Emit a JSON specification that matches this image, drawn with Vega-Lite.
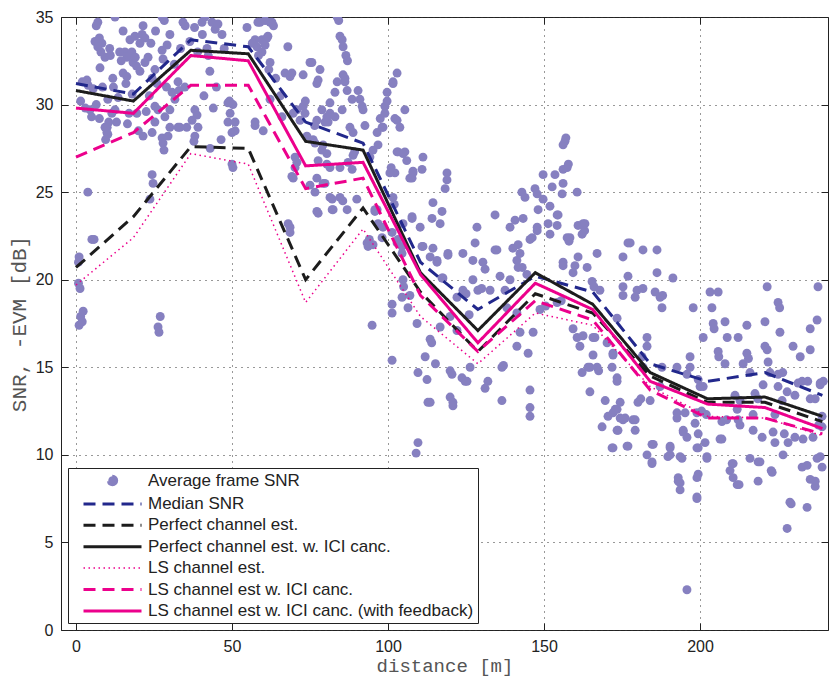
{
"$schema": "https://vega.github.io/schema/vega-lite/v6.json",
"width": 767, "height": 613,
"autosize": {"type": "none"},
"padding": {"left": 61, "top": 17, "right": 2, "bottom": 46},
"background": "white",
"config": {"view": {"stroke": "#222", "strokeWidth": 1}, "font": "Liberation Sans",
 "legend": {"orient": "bottom-left", "offset": 7, "padding": 4, "strokeColor": "#222", "fillColor": "white",
  "labelFont": "Liberation Sans", "labelFontSize": 17, "labelColor": "#222", "labelLimit": 0,
  "symbolSize": 100, "symbolOffset": 32, "labelOffset": 27, "rowPadding": 3.4, "symbolType": "stroke"}},
"datasets": {
"pts": [
{"x":1,"y":21.3},{"x":0.8,"y":21.0},{"x":0.8,"y":19.8},{"x":1.3,"y":19.5},{"x":1.5,"y":17.9},{"x":1.0,"y":17.4},{"x":2.0,"y":17.6},{"x":2.3,"y":18.2},{"x":5.8,"y":22.3},{"x":3.8,"y":25.0},
{"x":3.5,"y":31.4},{"x":3.9,"y":31.1},{"x":2.0,"y":31.3},{"x":1.5,"y":30.2},{"x":4.5,"y":29.7},{"x":5.0,"y":29.3},{"x":3.0,"y":29.8},{"x":7.0,"y":34.7},{"x":6.5,"y":34.5},{"x":12.5,"y":35.0},{"x":8.3,"y":33.5},{"x":7.5,"y":33.8},{"x":6.1,"y":33.6},{"x":7.0,"y":33.3},{"x":8.0,"y":33.0},{"x":7.7,"y":32.1},{"x":9.9,"y":28.4},{"x":10.0,"y":28.7},{"x":10.2,"y":28.3},{"x":10.5,"y":29.0},{"x":9.3,"y":32.7},{"x":11.8,"y":31.5},{"x":15.1,"y":34.2},{"x":15.7,"y":33.0},{"x":16.3,"y":32.7},{"x":17.9,"y":33.0},{"x":18.3,"y":32.4},{"x":19.4,"y":32.2},{"x":19.0,"y":32.7},{"x":15.1,"y":31.8},{"x":16.3,"y":31.6},{"x":16.0,"y":31.2},{"x":14.5,"y":32.5},{"x":17.3,"y":33.7},{"x":12.5,"y":29.7},{"x":11.5,"y":29.5},{"x":9.3,"y":28.7},{"x":9.5,"y":28.0},{"x":5.1,"y":22.3},{"x":13.5,"y":30.4},{"x":14.0,"y":33.0},{"x":10.8,"y":33.2},{"x":11.0,"y":32.8},{"x":18.9,"y":33.9},{"x":17.0,"y":29.5},{"x":16.5,"y":28.9},{"x":19.5,"y":29.5},{"x":18.0,"y":30.6},{"x":5.5,"y":30.9},{"x":6.5,"y":30.0},{"x":8.5,"y":31.0},{"x":12.0,"y":31.0},{"x":13,"y":29},{"x":7.5,"y":29.2},{"x":10.2,"y":30.3},
{"x":21.2,"y":34.0},{"x":22.1,"y":33.8},{"x":20.5,"y":33.5},{"x":23.1,"y":32.7},{"x":22.1,"y":32.4},{"x":20.5,"y":31.9},{"x":21.5,"y":34.5},{"x":27.6,"y":35.0},{"x":28.3,"y":34.8},{"x":30.1,"y":34.0},{"x":29.2,"y":33.4},{"x":27.6,"y":33.1},{"x":27.9,"y":32.6},{"x":25.3,"y":32.0},{"x":24.4,"y":31.5},{"x":25.3,"y":29.9},{"x":26.3,"y":29.7},{"x":30.8,"y":30.7},{"x":31.7,"y":30.3},{"x":30.1,"y":29.7},{"x":28.5,"y":29.3},{"x":25.3,"y":29.0},{"x":24.4,"y":28.4},{"x":27.6,"y":28.1},{"x":27.9,"y":27.8},{"x":28.2,"y":27.4},{"x":30.1,"y":28.7},{"x":32.7,"y":28.7},{"x":32.7,"y":31.3},{"x":33.0,"y":30.8},{"x":34.9,"y":31.0},{"x":24.4,"y":26.0},{"x":24.7,"y":25.5},{"x":23.7,"y":24.6},{"x":27.0,"y":17.9},{"x":26.3,"y":17.3},{"x":26.6,"y":17.0},{"x":22.5,"y":29.6},{"x":23.5,"y":30.5},{"x":26.0,"y":31.2},{"x":29.0,"y":31.0},{"x":24.0,"y":33.5},{"x":25.5,"y":34.2},{"x":31.5,"y":32.3},{"x":33.5,"y":33.2},{"x":20.0,"y":28.5},{"x":21.5,"y":28.2},{"x":29.5,"y":28.2},
{"x":34.3,"y":34.7},{"x":35.0,"y":34.5},{"x":40.4,"y":34.7},{"x":41.3,"y":35.0},{"x":43.6,"y":34.7},{"x":44.6,"y":34.3},{"x":45.5,"y":34.6},{"x":46.8,"y":34.0},{"x":42.0,"y":33.2},{"x":42.4,"y":32.8},{"x":38.1,"y":29.7},{"x":38.8,"y":29.4},{"x":37.2,"y":29.1},{"x":39.1,"y":28.7},{"x":35.5,"y":28.7},{"x":33.3,"y":28.7},{"x":38.1,"y":28.2},{"x":37.8,"y":27.9},{"x":42.9,"y":31.9},{"x":48.7,"y":30.1},{"x":49.2,"y":30.2},{"x":49.4,"y":29.5},{"x":48.7,"y":29.0},{"x":50.0,"y":28.4},{"x":50.3,"y":26.4},{"x":36.5,"y":33.6},{"x":39.0,"y":33.0},{"x":47.5,"y":33.2},{"x":45.0,"y":31.0},{"x":44.0,"y":29.8},{"x":41.0,"y":30.5},{"x":46.5,"y":28.0},{"x":43.0,"y":27.5},{"x":40.5,"y":34.0},{"x":38.0,"y":34.4},
{"x":54.8,"y":34.4},{"x":58.3,"y":34.7},{"x":59.0,"y":34.7},{"x":60.6,"y":34.8},{"x":62.2,"y":34.7},{"x":62.8,"y":34.7},{"x":63.3,"y":34.5},{"x":57.4,"y":33.7},{"x":59.6,"y":33.7},{"x":61.2,"y":33.8},{"x":61.5,"y":33.9},{"x":60.6,"y":33.4},{"x":58.0,"y":33.3},{"x":56.5,"y":33.5},{"x":59.6,"y":33.0},{"x":58.5,"y":32.8},{"x":62.2,"y":32.4},{"x":61.8,"y":32.0},{"x":67.9,"y":33.3},{"x":67.0,"y":31.8},{"x":68.6,"y":31.6},{"x":69.2,"y":31.8},{"x":72.8,"y":31.7},{"x":75.0,"y":32.4},{"x":62.2,"y":30.3},{"x":57.4,"y":29.0},{"x":57.4,"y":28.8},{"x":50.3,"y":30.0},{"x":51.0,"y":29.0},{"x":51.0,"y":28.5},{"x":50.0,"y":26.6},{"x":70.2,"y":27.0},{"x":70.2,"y":26.4},{"x":69.6,"y":25.8},{"x":70.8,"y":26.7},{"x":69.2,"y":25.9},{"x":68.6,"y":23.0},{"x":68.6,"y":22.7},{"x":68.0,"y":23.2},{"x":72.8,"y":29.9},{"x":73.5,"y":30.2},{"x":73.4,"y":29.5},{"x":70.8,"y":29.7},{"x":71.8,"y":29.1},{"x":69.6,"y":29.5},{"x":74.0,"y":28.2},{"x":75.0,"y":25.4},{"x":64.0,"y":31.5},{"x":65.5,"y":30.5},{"x":66.0,"y":29.3},{"x":60.0,"y":28.5},
{"x":76.0,"y":28.0},{"x":75.6,"y":32.4},{"x":77.6,"y":31.4},{"x":78.2,"y":32.0},{"x":77.2,"y":31.2},{"x":78.8,"y":29.7},{"x":79.8,"y":29.0},{"x":81.4,"y":30.1},{"x":81.4,"y":29.5},{"x":80.4,"y":29.3},{"x":77.2,"y":29.1},{"x":76.5,"y":28.8},{"x":80.8,"y":29.0},{"x":83.0,"y":29.3},{"x":85.3,"y":29.7},{"x":83.7,"y":35.0},{"x":84.2,"y":34.8},{"x":84.6,"y":33.9},{"x":85.3,"y":33.7},{"x":85.6,"y":33.3},{"x":86.5,"y":32.8},{"x":87.0,"y":32.5},{"x":85.6,"y":31.7},{"x":86.2,"y":31.3},{"x":86.2,"y":31.5},{"x":83.7,"y":31.3},{"x":83.0,"y":30.7},{"x":86.9,"y":30.8},{"x":88.5,"y":30.3},{"x":90.4,"y":30.8},{"x":91.0,"y":30.3},{"x":91.7,"y":29.9},{"x":92.0,"y":29.7},{"x":92.6,"y":28.8},{"x":87.8,"y":28.7},{"x":88.8,"y":28.4},{"x":79.2,"y":27.7},{"x":80.4,"y":27.2},{"x":76.6,"y":27.8},{"x":78.8,"y":27.4},{"x":77.6,"y":26.8},{"x":80.4,"y":26.6},{"x":81.4,"y":26.4},{"x":84.6,"y":26.4},{"x":87.2,"y":26.7},{"x":88.8,"y":27.1},{"x":89.3,"y":27.3},{"x":88.5,"y":26.3},{"x":77.2,"y":25.8},{"x":79.8,"y":25.5},{"x":79.2,"y":25.5},{"x":76.6,"y":25.0},{"x":81.4,"y":24.7},{"x":82.1,"y":24.6},{"x":84.6,"y":24.7},{"x":85.5,"y":24.5},{"x":90.0,"y":24.6},{"x":82.4,"y":24.0},{"x":86.9,"y":24.0},{"x":77.2,"y":23.9},{"x":77.6,"y":23.8},{"x":82.1,"y":24.0},{"x":93.3,"y":22.1},{"x":94.0,"y":22.3},{"x":95.8,"y":24.0},{"x":94.2,"y":27.0},{"x":95.2,"y":27.4},{"x":96.5,"y":28.4},{"x":94.9,"y":17.4},
{"x":98.1,"y":28.7},{"x":99.0,"y":29.5},{"x":99.0,"y":29.9},{"x":99.7,"y":30.7},{"x":99.7,"y":30.2},{"x":101.6,"y":31.3},{"x":101.6,"y":31.2},{"x":102.9,"y":31.8},{"x":102.9,"y":29.1},{"x":103.8,"y":28.7},{"x":102.2,"y":29.2},{"x":105.4,"y":29.7},{"x":98.4,"y":28.7},{"x":97.5,"y":29.2},{"x":96.8,"y":27.7},{"x":102.9,"y":27.3},{"x":103.2,"y":27.3},{"x":104.8,"y":27.2},{"x":105.4,"y":27.3},{"x":106.0,"y":26.8},{"x":102.2,"y":26.1},{"x":100.6,"y":26.1},{"x":101.0,"y":26.4},{"x":108.0,"y":26.1},{"x":110.9,"y":26.3},{"x":111.2,"y":27.0},{"x":107.7,"y":25.8},{"x":107.0,"y":25.8},{"x":108.0,"y":26.2},{"x":96.8,"y":23.2},{"x":98.4,"y":23.0},{"x":101.3,"y":22.7},{"x":103.2,"y":22.3},{"x":104.8,"y":23.2},{"x":107.7,"y":23.5},{"x":107.7,"y":23.6},{"x":110.3,"y":23.0},{"x":93.6,"y":21.9},{"x":95.8,"y":23.9},{"x":96.5,"y":24.0},{"x":101.6,"y":24.7},{"x":102.0,"y":24.3},{"x":95.2,"y":22.0},{"x":98.1,"y":22.4},{"x":102.9,"y":22.1},{"x":104.5,"y":21.5},{"x":104.5,"y":21.9},{"x":111.2,"y":21.9},{"x":110.9,"y":21.9},{"x":104.8,"y":20.0},{"x":105.0,"y":19.6},{"x":104.5,"y":19.0},{"x":107.0,"y":19.1},{"x":101.3,"y":18.6},{"x":101.3,"y":18.1},{"x":106.4,"y":18.4},{"x":109.3,"y":17.5},{"x":101.3,"y":15.4},{"x":109.6,"y":14.7},{"x":112.5,"y":14.3},{"x":111.9,"y":15.6},{"x":109.6,"y":10.7},{"x":109.0,"y":10.1},{"x":112.8,"y":13.0},{"x":113.5,"y":16.6},{"x":114.0,"y":16.4},{"x":113.5,"y":21.3},{"x":114.1,"y":23.5},{"x":114.4,"y":24.4},{"x":114.4,"y":21.8},{"x":115.7,"y":21.1},{"x":115.7,"y":21.0},{"x":115.2,"y":15.2},
{"x":116.7,"y":23.2},{"x":117.3,"y":23.9},{"x":118.3,"y":25.2},{"x":118.9,"y":26.1},{"x":118.9,"y":25.7},{"x":119.2,"y":21.5},{"x":119.2,"y":21.4},{"x":117.3,"y":20.1},{"x":117.6,"y":20.1},{"x":116.7,"y":17.3},{"x":119.9,"y":17.9},{"x":122.1,"y":17.1},{"x":122.1,"y":19.0},{"x":124.0,"y":19.4},{"x":125.0,"y":19.2},{"x":119.9,"y":14.8},{"x":120.5,"y":14.6},{"x":123.7,"y":14.4},{"x":124.7,"y":14.2},{"x":125.3,"y":14.2},{"x":119.9,"y":13.3},{"x":120.8,"y":13.0},{"x":120.8,"y":12.8},{"x":126.3,"y":15.0},{"x":128.5,"y":23.0},{"x":127.9,"y":22.1},{"x":124.0,"y":21.5},{"x":127.2,"y":21.1},{"x":130.4,"y":21.0},{"x":131.1,"y":20.6},{"x":127.2,"y":20.0},{"x":128.8,"y":19.4},{"x":130.0,"y":19.5},{"x":132.7,"y":19.4},{"x":132.0,"y":14.2},{"x":131.1,"y":13.8},{"x":134.3,"y":23.7},{"x":134.3,"y":21.7},{"x":134.9,"y":21.7},{"x":135.9,"y":20.2},{"x":126,"y":18.0},{"x":113.5,"y":13.0},
{"x":136.5,"y":15.0},{"x":137.0,"y":15.1},{"x":136.5,"y":13.1},{"x":137.5,"y":19.4},{"x":139.1,"y":20.0},{"x":139.1,"y":23.0},{"x":140.7,"y":23.4},{"x":143.3,"y":23.5},{"x":141.7,"y":22.0},{"x":142.3,"y":21.5},{"x":141.3,"y":21.1},{"x":141.7,"y":20.7},{"x":140.0,"y":21.8},{"x":143.0,"y":20.7},{"x":142.9,"y":25.0},{"x":143.9,"y":24.7},{"x":147.1,"y":25.2},{"x":147.8,"y":24.9},{"x":148.1,"y":24.0},{"x":147.8,"y":23.0},{"x":146.2,"y":22.4},{"x":149.7,"y":26.0},{"x":149.7,"y":24.6},{"x":151.9,"y":24.2},{"x":151.3,"y":23.2},{"x":151.9,"y":22.6},{"x":153.5,"y":26.0},{"x":154.5,"y":23.7},{"x":154.2,"y":23.1},{"x":152.6,"y":25.3},{"x":155.8,"y":24.9},{"x":156.1,"y":25.5},{"x":156.1,"y":26.3},{"x":157.4,"y":26.4},{"x":157.8,"y":26.6},{"x":156.7,"y":27.9},{"x":156.1,"y":27.7},{"x":157.0,"y":28.1},{"x":145.5,"y":22.3},{"x":147.8,"y":22.8},{"x":154.2,"y":23.7},{"x":157.4,"y":22.4},{"x":158.0,"y":22.2},{"x":138.1,"y":18.4},{"x":141.3,"y":18.1},{"x":142.3,"y":17.0},{"x":141.3,"y":16.2},{"x":144.9,"y":15.8},{"x":146.5,"y":17.0},{"x":148.7,"y":18.3},{"x":150.5,"y":18.5},{"x":154.2,"y":18.7},{"x":155.5,"y":18.8},{"x":145.5,"y":13.7},{"x":145.5,"y":12.7},{"x":145.5,"y":12.2},{"x":156.1,"y":21.0},{"x":156.1,"y":20.8},{"x":159.9,"y":20.8},{"x":159.3,"y":20.4},{"x":158.3,"y":22.4},{"x":159.3,"y":17.2},{"x":144.5,"y":20.3},
{"x":160.6,"y":25.0},{"x":160.9,"y":23.1},{"x":162.2,"y":22.6},{"x":162.5,"y":23.2},{"x":160.9,"y":21.3},{"x":163.8,"y":20.7},{"x":165.4,"y":19.9},{"x":166.0,"y":19.6},{"x":167.9,"y":19.4},{"x":167.0,"y":21.5},{"x":163.1,"y":23.2},{"x":163.0,"y":22.8},{"x":175.3,"y":21.3},{"x":177.6,"y":22.1},{"x":176.9,"y":20.2},{"x":181.7,"y":21.7},{"x":175.3,"y":19.6},{"x":179.8,"y":19.4},{"x":181.7,"y":19.5},{"x":176.9,"y":22.1},{"x":175.3,"y":19.1},{"x":179.2,"y":19.0},{"x":173.4,"y":17.8},{"x":160.6,"y":16.7},{"x":161.5,"y":16.2},{"x":162.5,"y":16.8},{"x":165.7,"y":16.7},{"x":165.7,"y":15.7},{"x":166.3,"y":16.7},{"x":162.2,"y":14.7},{"x":164.1,"y":15.0},{"x":164.7,"y":15.0},{"x":167.0,"y":15.0},{"x":167.5,"y":14.8},{"x":170.2,"y":16.4},{"x":172.1,"y":15.8},{"x":172.1,"y":15.7},{"x":171.8,"y":15.0},{"x":173.4,"y":14.4},{"x":173.4,"y":14.2},{"x":164.7,"y":13.6},{"x":169.6,"y":13.1},{"x":173.4,"y":12.6},{"x":172.1,"y":12.4},{"x":174.4,"y":12.1},{"x":174.4,"y":13.0},{"x":172.8,"y":12.6},{"x":170.5,"y":12.2},{"x":173.7,"y":11.4},{"x":168.6,"y":11.6},{"x":173.4,"y":11.4},{"x":175.3,"y":12.0},{"x":176.0,"y":12.1},{"x":178.5,"y":12.0},{"x":179.2,"y":12.0},{"x":179.2,"y":11.4},{"x":180.1,"y":13.0},{"x":181.0,"y":13.2},{"x":172.1,"y":10.4},{"x":176.6,"y":10.5},{"x":176.9,"y":10.5},{"x":183.0,"y":16.7},{"x":183.0,"y":16.2},{"x":181.4,"y":15.6},{"x":181.7,"y":15.0},{"x":184.0,"y":13.1},{"x":184.6,"y":10.6},{"x":183.0,"y":10.0},{"x":184.6,"y":9.5},{"x":184.6,"y":9.6},{"x":185.0,"y":10.6},{"x":171.8,"y":10.4},
{"x":186.2,"y":21.7},{"x":186.2,"y":20.4},{"x":191.3,"y":20.1},{"x":185.6,"y":19.3},{"x":187.2,"y":19.0},{"x":188.0,"y":19.1},{"x":187.8,"y":18.4},{"x":197.8,"y":18.4},{"x":203.2,"y":19.3},{"x":205.8,"y":19.3},{"x":203.8,"y":18.4},{"x":204.2,"y":17.5},{"x":204.5,"y":17.2},{"x":201.0,"y":16.7},{"x":196.8,"y":15.6},{"x":196.8,"y":15.0},{"x":199.4,"y":14.3},{"x":201.0,"y":13.9},{"x":192.6,"y":15.0},{"x":195.8,"y":14.6},{"x":187.8,"y":15.0},{"x":187.2,"y":13.9},{"x":192.6,"y":12.1},{"x":192.6,"y":12.4},{"x":195.2,"y":12.4},{"x":194.6,"y":11.4},{"x":194.6,"y":11.3},{"x":195.8,"y":11.0},{"x":198.4,"y":11.8},{"x":199.4,"y":11.2},{"x":201.6,"y":10.7},{"x":199.0,"y":10.4},{"x":199.4,"y":10.4},{"x":202.2,"y":9.9},{"x":202.2,"y":9.8},{"x":199.4,"y":8.9},{"x":199.0,"y":7.6},{"x":199.0,"y":7.5},{"x":199.0,"y":8.7},{"x":193.0,"y":8.7},{"x":193.6,"y":8.4},{"x":193.6,"y":8.0},{"x":193.0,"y":8.5},{"x":190.4,"y":10.4},{"x":189.7,"y":9.9},{"x":194.2,"y":9.8},{"x":193.6,"y":9.9},{"x":190.4,"y":10.0},{"x":190.4,"y":10.5},{"x":195.8,"y":2.3},{"x":200.0,"y":13.9},{"x":199.0,"y":12.4},{"x":200.5,"y":12.5},{"x":202.0,"y":12.3},
{"x":208.0,"y":17.6},{"x":215.0,"y":17.4},{"x":221.5,"y":19.6},{"x":225.0,"y":18.7},{"x":225.5,"y":18.4},{"x":237.8,"y":19.6},{"x":235.3,"y":17.2},{"x":237.5,"y":17.7},{"x":220.8,"y":17.6},{"x":225.6,"y":17.0},{"x":212.2,"y":16.7},{"x":208.7,"y":16.7},{"x":205.8,"y":15.9},{"x":206.0,"y":15.6},{"x":208.0,"y":15.2},{"x":213.8,"y":15.2},{"x":215.0,"y":15.8},{"x":215.5,"y":15.5},{"x":216.0,"y":14.7},{"x":221.8,"y":15.3},{"x":220.8,"y":16.2},{"x":221.5,"y":16.0},{"x":222.4,"y":14.7},{"x":225.0,"y":14.6},{"x":226.5,"y":14.7},{"x":229.8,"y":16.2},{"x":232.1,"y":15.6},{"x":235.3,"y":16.0},{"x":232.7,"y":14.2},{"x":234.5,"y":14.2},{"x":238.5,"y":14.1},{"x":239.5,"y":14.2},{"x":207.0,"y":10.9},{"x":206.4,"y":10.9},{"x":210.3,"y":9.5},{"x":210.6,"y":9.5},{"x":209.6,"y":9.1},{"x":210.6,"y":8.7},{"x":211.9,"y":8.3},{"x":212.5,"y":8.3},{"x":216.0,"y":9.8},{"x":218.6,"y":9.6},{"x":219.2,"y":9.6},{"x":218.6,"y":8.5},{"x":223.1,"y":9.0},{"x":222.8,"y":9.1},{"x":226.6,"y":10.0},{"x":228.2,"y":10.7},{"x":230.4,"y":11.0},{"x":232.7,"y":9.3},{"x":234.3,"y":9.4},{"x":235.3,"y":8.6},{"x":236.9,"y":8.2},{"x":236.9,"y":8.5},{"x":238.5,"y":9.9},{"x":237.5,"y":9.8},{"x":239.1,"y":9.3},{"x":219.9,"y":11.0},{"x":217.0,"y":11.4},{"x":223.4,"y":11.3},{"x":224.0,"y":10.7},{"x":227.0,"y":11.2},{"x":207.0,"y":11.9},{"x":208.5,"y":12.0},{"x":211.9,"y":12.6},{"x":212.8,"y":13.1},{"x":217.6,"y":13.5},{"x":218.5,"y":13.2},{"x":226.3,"y":13.1},{"x":227.9,"y":13.6},{"x":230.4,"y":13.4},{"x":235.3,"y":13.2},{"x":236.9,"y":13.2},{"x":239.1,"y":11.6},{"x":238.0,"y":11.7},{"x":212.8,"y":11.7},{"x":212.2,"y":12.0},{"x":217.0,"y":12.3},{"x":224.0,"y":12.3},{"x":220.2,"y":14.0},{"x":225.0,"y":13.9},{"x":231.4,"y":14.1},{"x":238.5,"y":14.0},{"x":211.2,"y":13.4},{"x":228.8,"y":7.3},{"x":229.2,"y":7.2},{"x":234.3,"y":7.0},{"x":227.9,"y":5.8},{"x":233.0,"y":10.9},{"x":236.2,"y":11.0},{"x":239.1,"y":12.2}
],
"lines": [
{"d":0,"v":31.2,"s":"Median SNR"},{"d":18.4,"v":30.6,"s":"Median SNR"},{"d":36.8,"v":33.7,"s":"Median SNR"},{"d":55.2,"v":33.3,"s":"Median SNR"},{"d":73.6,"v":29.0,"s":"Median SNR"},{"d":92,"v":27.8,"s":"Median SNR"},{"d":110.4,"v":21.0,"s":"Median SNR"},{"d":128.8,"v":18.3,"s":"Median SNR"},{"d":147.2,"v":20.2,"s":"Median SNR"},{"d":165.6,"v":19.3,"s":"Median SNR"},{"d":184,"v":15.2,"s":"Median SNR"},{"d":202.4,"v":14.2,"s":"Median SNR"},{"d":220.8,"v":14.7,"s":"Median SNR"},{"d":239.2,"v":13.4,"s":"Median SNR"},
{"d":0,"v":20.7,"s":"Perfect channel est."},{"d":18.4,"v":23.6,"s":"Perfect channel est."},{"d":36.8,"v":27.6,"s":"Perfect channel est."},{"d":55.2,"v":27.5,"s":"Perfect channel est."},{"d":73.6,"v":20.0,"s":"Perfect channel est."},{"d":92,"v":24.1,"s":"Perfect channel est."},{"d":110.4,"v":19.3,"s":"Perfect channel est."},{"d":128.8,"v":15.9,"s":"Perfect channel est."},{"d":147.2,"v":19.2,"s":"Perfect channel est."},{"d":165.6,"v":18.1,"s":"Perfect channel est."},{"d":184,"v":14.5,"s":"Perfect channel est."},{"d":202.4,"v":13.0,"s":"Perfect channel est."},{"d":220.8,"v":13.0,"s":"Perfect channel est."},{"d":239.2,"v":11.9,"s":"Perfect channel est."},
{"d":0,"v":30.8,"s":"Perfect channel est. w. ICI canc."},{"d":18.4,"v":30.2,"s":"Perfect channel est. w. ICI canc."},{"d":36.8,"v":33.1,"s":"Perfect channel est. w. ICI canc."},{"d":55.2,"v":32.9,"s":"Perfect channel est. w. ICI canc."},{"d":73.6,"v":27.9,"s":"Perfect channel est. w. ICI canc."},{"d":92,"v":27.4,"s":"Perfect channel est. w. ICI canc."},{"d":110.4,"v":20.4,"s":"Perfect channel est. w. ICI canc."},{"d":128.8,"v":17.1,"s":"Perfect channel est. w. ICI canc."},{"d":147.2,"v":20.4,"s":"Perfect channel est. w. ICI canc."},{"d":165.6,"v":18.6,"s":"Perfect channel est. w. ICI canc."},{"d":184,"v":14.7,"s":"Perfect channel est. w. ICI canc."},{"d":202.4,"v":13.2,"s":"Perfect channel est. w. ICI canc."},{"d":220.8,"v":13.3,"s":"Perfect channel est. w. ICI canc."},{"d":239.2,"v":12.2,"s":"Perfect channel est. w. ICI canc."},
{"d":0,"v":19.7,"s":"LS channel est."},{"d":18.4,"v":22.4,"s":"LS channel est."},{"d":36.8,"v":27.2,"s":"LS channel est."},{"d":55.2,"v":26.6,"s":"LS channel est."},{"d":73.6,"v":18.7,"s":"LS channel est."},{"d":92,"v":22.9,"s":"LS channel est."},{"d":110.4,"v":17.9,"s":"LS channel est."},{"d":128.8,"v":15.2,"s":"LS channel est."},{"d":147.2,"v":18.1,"s":"LS channel est."},{"d":165.6,"v":17.4,"s":"LS channel est."},{"d":184,"v":13.9,"s":"LS channel est."},{"d":202.4,"v":12.2,"s":"LS channel est."},{"d":220.8,"v":12.1,"s":"LS channel est."},{"d":239.2,"v":11.1,"s":"LS channel est."},
{"d":0,"v":27.0,"s":"LS channel est w. ICI canc."},{"d":18.4,"v":28.4,"s":"LS channel est w. ICI canc."},{"d":36.8,"v":31.1,"s":"LS channel est w. ICI canc."},{"d":55.2,"v":31.1,"s":"LS channel est w. ICI canc."},{"d":73.6,"v":25.2,"s":"LS channel est w. ICI canc."},{"d":92,"v":25.8,"s":"LS channel est w. ICI canc."},{"d":110.4,"v":19.1,"s":"LS channel est w. ICI canc."},{"d":128.8,"v":15.9,"s":"LS channel est w. ICI canc."},{"d":147.2,"v":18.8,"s":"LS channel est w. ICI canc."},{"d":165.6,"v":17.7,"s":"LS channel est w. ICI canc."},{"d":184,"v":13.7,"s":"LS channel est w. ICI canc."},{"d":202.4,"v":12.1,"s":"LS channel est w. ICI canc."},{"d":220.8,"v":12.1,"s":"LS channel est w. ICI canc."},{"d":239.2,"v":11.2,"s":"LS channel est w. ICI canc."},
{"d":0,"v":29.8,"s":"LS channel est w. ICI canc. (with feedback)"},{"d":18.4,"v":29.5,"s":"LS channel est w. ICI canc. (with feedback)"},{"d":36.8,"v":32.8,"s":"LS channel est w. ICI canc. (with feedback)"},{"d":55.2,"v":32.5,"s":"LS channel est w. ICI canc. (with feedback)"},{"d":73.6,"v":26.5,"s":"LS channel est w. ICI canc. (with feedback)"},{"d":92,"v":26.7,"s":"LS channel est w. ICI canc. (with feedback)"},{"d":110.4,"v":20.3,"s":"LS channel est w. ICI canc. (with feedback)"},{"d":128.8,"v":16.4,"s":"LS channel est w. ICI canc. (with feedback)"},{"d":147.2,"v":19.8,"s":"LS channel est w. ICI canc. (with feedback)"},{"d":165.6,"v":18.3,"s":"LS channel est w. ICI canc. (with feedback)"},{"d":184,"v":14.2,"s":"LS channel est w. ICI canc. (with feedback)"},{"d":202.4,"v":12.9,"s":"LS channel est w. ICI canc. (with feedback)"},{"d":220.8,"v":12.7,"s":"LS channel est w. ICI canc. (with feedback)"},{"d":239.2,"v":11.5,"s":"LS channel est w. ICI canc. (with feedback)"}
]
},
"resolve": {"axis": {"x": "independent", "y": "independent"}},
"layer": [
{
"data": {"name": "pts"},
"mark": {"type": "point", "filled": true, "size": 80, "opacity": 1, "clip": true},
"encoding": {
"x": {"field": "x", "type": "quantitative", "scale": {"domain": [-4.8, 241], "nice": false, "zero": false},
 "axis": {"orient": "bottom", "title": "distance [m]", "titleFont": "Liberation Mono", "titleFontSize": 19, "titleFontWeight": "normal", "titleColor": "#555", "titlePadding": 2,
  "values": [0, 50, 100, 150, 200], "format": "d", "labelFont": "Liberation Sans", "labelFontSize": 16, "labelColor": "#222", "labelPadding": 15,
  "tickSize": -7, "tickColor": "#222", "domain": false, "grid": true, "gridDash": [1, 5], "gridColor": "#333", "gridWidth": 1}},
"y": {"field": "y", "type": "quantitative", "scale": {"domain": [0, 35], "nice": false, "zero": false},
 "axis": {"orient": "left", "title": "SNR, -EVM [dB]", "titleFont": "Liberation Mono", "titleFontSize": 21, "titleFontWeight": "normal", "titleColor": "#555", "titlePadding": 6,
  "values": [0, 5, 10, 15, 20, 25, 30, 35], "labelFont": "Liberation Sans", "labelFontSize": 16, "labelColor": "#222", "labelPadding": 15,
  "tickSize": -7, "tickColor": "#222", "domain": false, "grid": true, "gridDash": [1, 5], "gridColor": "#333", "gridWidth": 1}},
"color": {"datum": "Average frame SNR", "type": "nominal", "title": null,
 "scale": {"domain": ["Average frame SNR", "Median SNR", "Perfect channel est.", "Perfect channel est. w. ICI canc.", "LS channel est.", "LS channel est w. ICI canc.", "LS channel est w. ICI canc. (with feedback)"],
  "range": ["#8680c0", "#22288c", "#1c1c1c", "#1c1c1c", "#ec008c", "#ec008c", "#ec008c"]},
 "legend": {"title": null,
  "encode": {"symbols": {"update": {
   "shape": {"signal": "datum.value === 'Average frame SNR' ? 'circle' : 'stroke'"},
   "size": {"signal": "datum.value === 'Average frame SNR' ? 70 : 3364"},
   "fill": {"signal": "datum.value === 'Average frame SNR' ? '#8680c0' : 'transparent'"},
   "stroke": {"signal": "datum.value === 'Average frame SNR' ? 'transparent' : scale('color', datum.value)"},
   "strokeWidth": {"signal": "datum.value === 'LS channel est.' ? 1.5 : 3"},
   "strokeDash": {"signal": "datum.value === 'LS channel est.' ? [1.5, 3.5] : (datum.value === 'Perfect channel est. w. ICI canc.' || datum.value === 'LS channel est w. ICI canc. (with feedback)') ? [1, 0] : [12, 7]"},
   "opacity": {"value": 1}, "fillOpacity": {"value": 1}, "strokeOpacity": {"value": 1}
  }}}}}
}
},
{
"data": {"name": "lines"},
"transform": [{"filter": "datum.s !== 'LS channel est.'"}],
"mark": {"type": "line", "strokeWidth": 3, "clip": true},
"encoding": {
"x": {"field": "d", "type": "quantitative", "axis": null},
"y": {"field": "v", "type": "quantitative", "axis": null},
"color": {"field": "s", "type": "nominal", "title": null,
 "legend": {"title": null,
  "encode": {"symbols": {"update": {
   "shape": {"signal": "datum.value === 'Average frame SNR' ? 'circle' : 'stroke'"},
   "size": {"signal": "datum.value === 'Average frame SNR' ? 70 : 3364"},
   "fill": {"signal": "datum.value === 'Average frame SNR' ? '#8680c0' : 'transparent'"},
   "stroke": {"signal": "datum.value === 'Average frame SNR' ? 'transparent' : scale('color', datum.value)"},
   "strokeWidth": {"signal": "datum.value === 'LS channel est.' ? 1.5 : 3"},
   "strokeDash": {"signal": "datum.value === 'LS channel est.' ? [1.5, 3.5] : (datum.value === 'Perfect channel est. w. ICI canc.' || datum.value === 'LS channel est w. ICI canc. (with feedback)') ? [1, 0] : [12, 7]"},
   "opacity": {"value": 1}, "fillOpacity": {"value": 1}, "strokeOpacity": {"value": 1}
  }}}}},
"strokeDash": {"field": "s", "type": "nominal", "legend": null,
 "scale": {"domain": ["Median SNR", "Perfect channel est.", "Perfect channel est. w. ICI canc.", "LS channel est w. ICI canc.", "LS channel est w. ICI canc. (with feedback)"],
  "range": [[12, 7], [12, 7], [1, 0], [12, 7], [1, 0]]}}
}
},
{
"data": {"name": "lines"},
"transform": [{"filter": "datum.s === 'LS channel est.'"}],
"mark": {"type": "line", "strokeWidth": 1.5, "strokeDash": [1.5, 3.5], "clip": true},
"encoding": {
"x": {"field": "d", "type": "quantitative", "axis": {"orient": "top", "labels": false, "title": null, "grid": false, "domain": false, "values": [0, 50, 100, 150, 200], "tickSize": -7, "tickColor": "#222"}},
"y": {"field": "v", "type": "quantitative", "axis": {"orient": "right", "labels": false, "title": null, "grid": false, "domain": false, "values": [0, 5, 10, 15, 20, 25, 30, 35], "tickSize": -7, "tickColor": "#222"}},
"color": {"field": "s", "type": "nominal", "title": null,
 "legend": {"title": null,
  "encode": {"symbols": {"update": {
   "shape": {"signal": "datum.value === 'Average frame SNR' ? 'circle' : 'stroke'"},
   "size": {"signal": "datum.value === 'Average frame SNR' ? 70 : 3364"},
   "fill": {"signal": "datum.value === 'Average frame SNR' ? '#8680c0' : 'transparent'"},
   "stroke": {"signal": "datum.value === 'Average frame SNR' ? 'transparent' : scale('color', datum.value)"},
   "strokeWidth": {"signal": "datum.value === 'LS channel est.' ? 1.5 : 3"},
   "strokeDash": {"signal": "datum.value === 'LS channel est.' ? [1.5, 3.5] : (datum.value === 'Perfect channel est. w. ICI canc.' || datum.value === 'LS channel est w. ICI canc. (with feedback)') ? [1, 0] : [12, 7]"},
   "opacity": {"value": 1}, "fillOpacity": {"value": 1}, "strokeOpacity": {"value": 1}
  }}}}}
}
}
]
}
